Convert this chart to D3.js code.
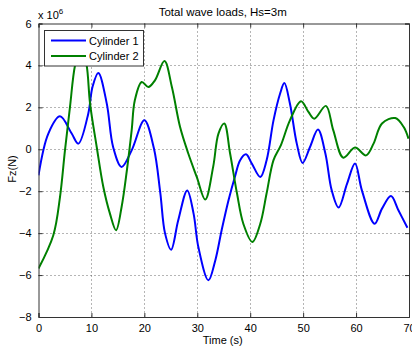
<!DOCTYPE html>
<html><head><meta charset="utf-8">
<script src="https://cdn.jsdelivr.net/npm/d3@7"></script>
<style>
body{margin:0;background:#fff;}
text{font-family:"Liberation Sans",Arial,sans-serif;fill:#000;}
</style></head>
<body><svg id="c" width="412" height="351"></svg>
<script>
const xTicks = [0,10,20,30,40,50,60,70];
const yTicks = [-8,-6,-4,-2,0,2,4,6];
const seriesNames = ["Cylinder 1","Cylinder 2"];
const cyl1T = [0,1.86,4.06,6.27,7.53,9.4,10.2,11.3,12.9,14.1,15.7,17.6,20.0,21.8,23.0,23.9,25.05,26.4,28.1,29.3,30.2,32.1,33.4,34.6,35.9,37.1,38.1,39.2,40.3,41.9,43.1,44.4,45.65,46.45,47.5,48.8,49.9,51.3,52.8,54.2,55.4,56.7,58.3,59.8,61.1,63.5,64.9,66.6,68.0,69.7];
const cyl1V = [-1.24,0.75,1.57,0.75,0.27,1.7,2.97,3.64,2.18,0.11,-0.84,-0.05,1.38,0.05,-2.05,-4.0,-4.79,-3.39,-1.96,-3.07,-4.66,-6.25,-5.3,-3.86,-2.43,-1.32,-0.52,-0.24,-0.68,-1.32,-0.52,1.38,2.66,3.16,2.18,0.27,-0.65,0.11,0.94,-0.2,-1.96,-2.78,-1.64,-0.68,-1.96,-3.55,-2.83,-2.23,-2.91,-3.74];
const cyl2T = [0,2.8,4.06,5.0,5.95,6.9,8.1,9.1,9.74,11.0,12.25,13.5,14.65,15.7,16.7,17.6,18.2,19.5,20.75,22.0,23.8,25.2,26.75,28.3,29.9,31.5,33.0,34.0,35.1,36.2,37.5,38.7,40.4,41.9,43.1,44.4,45.8,47.5,49.6,51.0,52.1,54.3,55.7,57.6,59.8,61.9,63.3,64.9,67.4,69.0,69.9];
const cyl2V = [-5.69,-4.1,-2.28,-0.05,2.02,4.0,5.0,4.0,2.18,0.11,-1.8,-3.07,-3.86,-2.75,-1.0,0.9,2.34,3.21,2.97,3.29,4.21,2.97,1.06,-0.2,-1.32,-2.4,-0.84,0.75,1.23,-0.2,-2.1,-3.55,-4.42,-3.55,-2.1,-0.52,0.2,1.38,2.29,1.78,1.46,2.07,0.9,-0.4,0.08,-0.29,0.27,1.23,1.49,1.06,0.51];

const svg = d3.select("#c");
const L=38.5,R=409,T=23.5,B=317;
const x = d3.scaleLinear().domain([0,70]).range([L,R]);
const y = d3.scaleLinear().domain([-8,6]).range([B,T]);

// grid
const g = svg.append("g");
g.selectAll(".gx").data(xTicks.slice(1,-1)).enter().append("line")
 .attr("x1",d=>Math.round(x(d))+0.5).attr("x2",d=>Math.round(x(d))+0.5).attr("y1",T).attr("y2",B)
 .attr("stroke","#444").attr("stroke-width",0.8).attr("stroke-dasharray","1,3");
g.selectAll(".gy").data(yTicks.slice(1,-1)).enter().append("line")
 .attr("y1",d=>Math.round(y(d))+0.5).attr("y2",d=>Math.round(y(d))+0.5).attr("x1",L).attr("x2",R)
 .attr("stroke","#444").attr("stroke-width",0.8).attr("stroke-dasharray","1,3");

// series
const line = d3.line().x(d=>x(d[0])).y(d=>y(d[1])).curve(d3.curveCatmullRom.alpha(0.5));
const s1 = cyl1T.map((t,i)=>[t,cyl1V[i]]);
const s2 = cyl2T.map((t,i)=>[t,cyl2V[i]]);
svg.append("clipPath").attr("id","cp").append("rect").attr("x",L).attr("y",T).attr("width",R-L).attr("height",B-T);
svg.append("path").datum(s1).attr("d",line).attr("fill","none").attr("stroke","#0000ff").attr("stroke-width",2).attr("clip-path","url(#cp)");
svg.append("path").datum(s2).attr("d",line).attr("fill","none").attr("stroke","#008000").attr("stroke-width",2).attr("clip-path","url(#cp)");

// axes
const xb = d3.axisBottom(x).tickValues(xTicks).tickSize(-4).tickPadding(7).tickFormat(d3.format("d"));
const xt = d3.axisTop(x).tickValues(xTicks).tickSize(-4).tickFormat("");
const yl = d3.axisLeft(y).tickValues(yTicks).tickSize(-4).tickPadding(7).tickFormat(d3.format("d"));
const yr = d3.axisRight(y).tickValues(yTicks).tickSize(-4).tickFormat("");
function style(sel){sel.select(".domain").attr("stroke","#333");sel.selectAll(".tick line").attr("stroke","#333");sel.selectAll("text").attr("font-size","11px").attr("font-family","Liberation Sans, Arial, sans-serif").attr("fill","#000");}
svg.append("g").attr("transform",`translate(0,${B})`).call(xb).call(style);
svg.append("g").attr("transform",`translate(0,${T})`).call(xt).call(style);
svg.append("g").attr("transform",`translate(${L},0)`).call(yl).call(style);
svg.append("g").attr("transform",`translate(${R},0)`).call(yr).call(style);

// titles
svg.append("text").attr("x",(L+R)/2-1).attr("y",16).attr("text-anchor","middle").attr("font-size","11.5px").text("Total wave loads, Hs=3m");
svg.append("text").attr("x",(L+R)/2-1).attr("y",344).attr("text-anchor","middle").attr("font-size","11px").text("Time (s)");
svg.append("text").attr("transform","translate(16,169) rotate(-90)").attr("text-anchor","middle").attr("font-size","11px").text("Fz(N)");
const ex = svg.append("text").attr("x",38).attr("y",19).attr("font-size","11px");
ex.append("tspan").text("x 10");
ex.append("tspan").attr("dy",-5).attr("font-size","8px").text("6");

// legend
const lg = svg.append("g");
lg.append("rect").attr("x",44.5).attr("y",30.5).attr("width",99).attr("height",35.5).attr("fill","#fff").attr("stroke","#333");
const cols=["#0000ff","#008000"];
seriesNames.forEach((n,i)=>{
  const yy = 40.5 + i*15.5;
  lg.append("line").attr("x1",51).attr("x2",86).attr("y1",yy).attr("y2",yy).attr("stroke",cols[i]).attr("stroke-width",2);
  lg.append("text").attr("x",89).attr("y",yy+4).attr("font-size","11px").text(n);
});
</script></body></html>
